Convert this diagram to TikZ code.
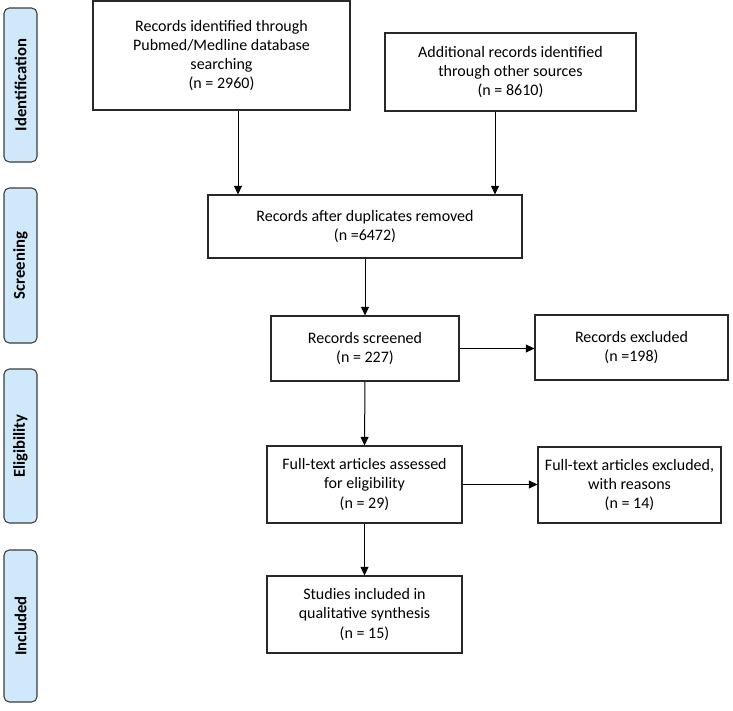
\documentclass[tikz,border=0pt]{standalone}
\usepackage{fontspec}
\setmainfont{Carlito}
\usetikzlibrary{arrows.meta}
\definecolor{sidefill}{RGB}{207,232,250}
\definecolor{sideborder}{RGB}{60,60,60}
\definecolor{boxborder}{RGB}{40,40,40}
\tikzset{
  flowbox/.style={draw=boxborder, line width=0.8pt, rectangle, inner sep=0pt, align=center,
    font=\fontsize{12}{14.4}\selectfont},
  sidebox/.style={draw=sideborder, fill=sidefill, line width=0.8pt, rounded corners=4pt,
    rotate=90, inner sep=0pt, minimum height=24.75pt, font=\fontsize{12.5}{14}\selectfont\bfseries},
  arr/.style={draw=black, line width=0.75pt, -{Triangle[length=6.5pt,width=6pt]}}
}
\begin{document}
\begin{tikzpicture}[x=0.75pt,y=-0.75pt]
\useasboundingbox (0,0) rectangle (733,711);
% side labels
\node[sidebox, minimum width=115.5pt] (sid) at (20.5,85) {Identification};
\node[sidebox, minimum width=116.25pt] (sscr) at (20.5,265.5) {Screening};
\node[sidebox, minimum width=115.5pt] (selig) at (20.5,446) {Eligibility};
\node[sidebox, minimum width=114pt] (sinc) at (20.5,626) {Included};
% boxes
\node[flowbox, minimum width=192.75pt, minimum height=81.75pt] (b1) at (221.5,55.5)
  {Records identified through\\Pubmed/Medline database\\searching\\(n = 2960)};
\node[flowbox, minimum width=188.25pt, minimum height=58.5pt] (b2) at (510.5,72)
  {Additional records identified\\through other sources\\(n = 8610)};
\node[flowbox, minimum width=235.5pt, minimum height=47.25pt] (b3) at (365,226.5)
  {Records after duplicates removed\\(n =6472)};
\node[flowbox, minimum width=141pt, minimum height=48.75pt] (b4) at (365,348.5)
  {Records screened\\(n = 227)};
\node[flowbox, minimum width=144.75pt, minimum height=48.75pt] (x1) at (631.5,347.5)
  {Records excluded\\(n =198)};
\node[flowbox, minimum width=146.25pt, minimum height=57.75pt] (b5) at (364.5,484.5)
  {Full-text articles assessed\\for eligibility\\(n = 29)};
\node[flowbox, minimum width=137.25pt, minimum height=57pt] (x2) at (629.5,485)
  {Full-text articles excluded,\\with reasons\\(n = 14)};
\node[flowbox, minimum width=146.25pt, minimum height=57.75pt] (b6) at (364.5,614.5)
  {Studies included in\\qualitative synthesis\\(n = 15)};
% connectors
\coordinate (c1) at (238,0);
\coordinate (c2) at (495,0);
\draw[arr] (c1 |- b1.south) -- (c1 |- b3.north);
\draw[arr] (c2 |- b2.south) -- (c2 |- b3.north);
\draw[arr] (b3.south) -- (b4.north);
\draw[arr] (b4.east) -- (b4.east -| x1.west);
\draw[arr] (b4.south) -- (b5.north);
\draw[arr] (b5.east) -- (b5.east -| x2.west);
\draw[arr] (b5.south) -- (b6.north);
\end{tikzpicture}
\end{document}
